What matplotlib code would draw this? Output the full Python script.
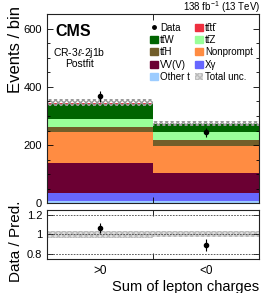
import numpy as np
import matplotlib
matplotlib.use("Agg")
import matplotlib.pyplot as plt
from matplotlib.patches import Patch
from matplotlib.lines import Line2D
from matplotlib.ticker import MultipleLocator

plt.rcParams['font.family'] = ['Liberation Sans', 'DejaVu Sans']
plt.rcParams['mathtext.fontset'] = 'custom'
plt.rcParams['mathtext.rm'] = 'Liberation Sans'
plt.rcParams['mathtext.it'] = 'Liberation Sans:italic'

categories = [">0", "<0"]
proc_names = ["Other t", "Xγ", "VV(V)", "Nonprompt", "tt\u0304H",
              "tt\u0304Z", "tt\u0304W", "tt\u0304tt\u0304"]
other_t = [8, 8]
x_gamma = [28, 28]
vvv = [101, 67]
nonprompt = [108, 95]
tth = [18, 19]
ttz = [27, 28]
ttw = [50, 26]
tttt = [5, 3]
total_unc = [12, 8]
data = [367, 244]
data_err = [19, 16]

colors = ["#9cccff", "#6767ff", "#6b0033", "#ff8c42", "#725e2a", "#99ff99", "#006400", "#ee2f3f"]
stack = [other_t, x_gamma, vvv, nonprompt, tth, ttz, ttw, tttt]

fig = plt.figure(figsize=(2.66, 2.93), dpi=100)
ax = fig.add_axes([0.1767, 0.3061, 0.797, 0.646])
rx = fig.add_axes([0.1767, 0.116, 0.797, 0.167])

edges = np.arange(len(categories) + 1)
centers = edges[:-1] + 0.5
bottom = np.zeros(len(categories))
for vals, c in zip(stack, colors):
    vals = np.array(vals, float)
    ax.bar(edges[:-1], vals, width=1.0, bottom=bottom, align='edge', color=c, linewidth=0)
    bottom += vals
total = bottom.copy()
unc = np.array(total_unc, float)

ax.bar(edges[:-1], 2 * unc, width=1.0, bottom=total - unc, align='edge',
       facecolor='none', edgecolor='#999999', hatch='xxxxxx', linewidth=0)
ax.errorbar(centers, data, yerr=data_err, fmt='o', color='black', ms=3, elinewidth=0.8, capsize=0)

ax.set_xlim(0, 2)
ax.set_ylim(0, 650)
ax.set_xticks([1])
ax.set_xticklabels([])
ax.yaxis.set_major_locator(MultipleLocator(200))
ax.yaxis.set_minor_locator(MultipleLocator(50))
ax.set_ylabel("Events / bin", fontsize=12, loc='top')
ax.yaxis.set_label_coords(-0.115, 1.04)

# ratio
ratio = np.array(data) / total
ratio_err = np.array(data_err) / total
rel = unc / total
for i in range(len(categories)):
    rx.fill_between([edges[i], edges[i + 1]], 1 - rel[i], 1 + rel[i], facecolor='#dddddd',
                    edgecolor='#bbbbbb', hatch='xxxxxx', linewidth=0)
for yv in [0.8, 1.0, 1.2]:
    rx.axhline(yv, color='#444444', ls=(0, (2, 1.5)), lw=0.6)
rx.errorbar(centers, ratio, yerr=ratio_err, fmt='o', color='black', ms=3, elinewidth=0.8, capsize=0)
rx.set_xlim(0, 2)
rx.set_ylim(0.745, 1.25)
rx.set_yticks([0.8, 1.0, 1.2])
rx.set_yticklabels(["0.8", "1", "1.2"])
rx.set_xticks([1])
rx.set_xticklabels([])
rx.set_xticks(centers, minor=True)
rx.set_xticklabels(categories, minor=True)
rx.set_ylabel("Data / Pred.", fontsize=11)
rx.yaxis.set_label_coords(-0.115, 0.36)
rx.set_xlabel("Sum of lepton charges", fontsize=10.5, loc='right')
rx.xaxis.set_label_coords(1.0, -0.42)

for a in (ax, rx):
    a.tick_params(which='both', direction='in', top=True, right=True, labelsize=8, width=0.6)
    a.tick_params(which='major', length=4)
    a.tick_params(which='minor', length=2)
    for s in a.spines.values():
        s.set_linewidth(0.8)
        s.set_color('#222222')
rx.tick_params(axis='x', which='minor', length=0, top=False, pad=4, labelsize=8.5)

ax.text(0.038, 0.945, "CMS", transform=ax.transAxes, fontsize=11.5, fontweight='bold', va='top')
ax.text(0.151, 0.792, r"CR-3$\ell$-2j1b", transform=ax.transAxes, fontsize=7.5, ha='center', va='center')
ax.text(0.151, 0.734, "Postfit", transform=ax.transAxes, fontsize=7.5, ha='center', va='center')
fig.text(0.978, 0.977, r"138 fb$^{-1}$ (13 TeV)", ha='right', va='center', fontsize=7)

handles = [Line2D([], [], marker='o', color='black', ms=2.5, lw=0.8, ls='none'),
           Patch(color=colors[6]), Patch(color=colors[4]), Patch(color=colors[2]), Patch(color=colors[0]),
           Patch(color=colors[7]), Patch(color=colors[5]), Patch(color=colors[3]), Patch(color=colors[1]),
           Patch(facecolor='#dddddd', edgecolor='#bbbbbb', hatch='xxxxxx', lw=0)]
labels = ["Data", proc_names[6], proc_names[4], proc_names[2], proc_names[0],
          proc_names[7], proc_names[5], proc_names[3], proc_names[1], "Total unc."]
leg = ax.legend(handles, labels, ncol=2, loc='upper left', bbox_to_anchor=(0.486, 0.955),
                frameon=False, fontsize=7, handlelength=0.8, handleheight=0.7, handletextpad=0.25,
                columnspacing=0.5, labelspacing=0.24, borderaxespad=0, borderpad=0)

fig.savefig("out.png", dpi=100)
